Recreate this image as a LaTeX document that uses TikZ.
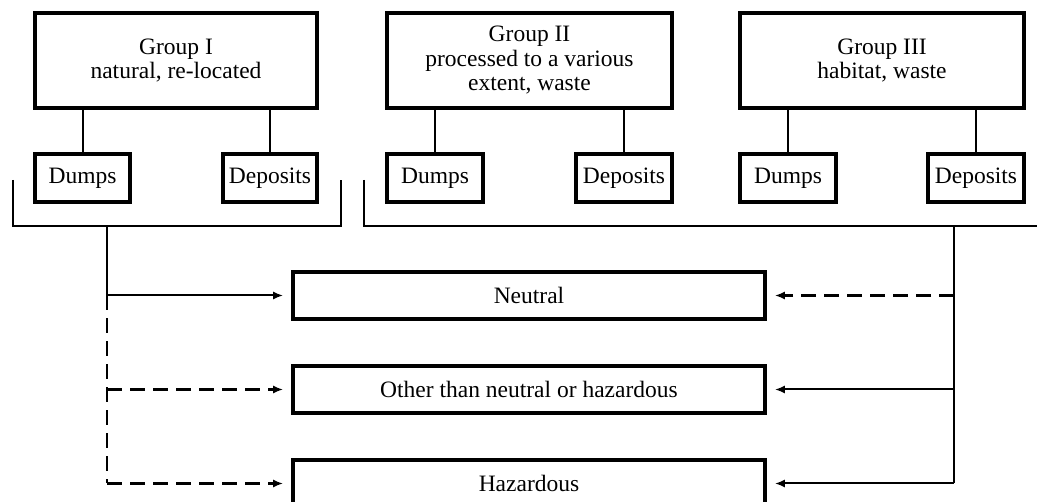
\documentclass[tikz,border=0pt]{standalone}
\usepackage{fontspec}
\setmainfont{Liberation Serif}
\usetikzlibrary{arrows.meta}
\begin{document}
\begin{tikzpicture}[x=1pt,y=-1pt,
  txt/.style={font=\fontsize{23.5}{24.5}\selectfont},
  grp/.style={txt, draw, line width=3.8pt, minimum width=282pt, minimum height=95pt, inner sep=0pt, align=center},
  sub/.style={txt, draw, line width=3.6pt, minimum height=48pt, inner sep=0pt},
  cat/.style={txt, draw, line width=3.6pt, minimum width=472pt, minimum height=47pt, inner sep=0pt},
  ln/.style={line width=2pt},
  arr/.style={line width=2pt, -{Latex[length=10pt,width=8pt]}, shorten >=8pt},
  dsh/.style={line width=2.2pt, dash pattern=on 15pt off 8pt}
]
\clip (0,0) rectangle (1037,502);
% groups
\node[grp] (g1) at (176,60.5) {Group I\\natural, re-located};
\node[grp, minimum width=285pt] (g2) at (529.5,60.5) {Group II\\processed to a various\\extent, waste};
\node[grp, minimum width=284pt] (g3) at (882,60.5) {Group III\\habitat, waste};
% sub boxes
\node[sub, minimum width=95pt] (d1) at (82.5,178) {Dumps};
\node[sub, minimum width=94pt] (p1) at (270,178) {Deposits};
\node[sub, minimum width=96pt] (d2) at (435,178) {Dumps};
\node[sub, minimum width=96pt] (p2) at (624,178) {Deposits};
\node[sub, minimum width=96pt] (d3) at (788,178) {Dumps};
\node[sub, minimum width=96pt] (p3) at (976,178) {Deposits};
\foreach \g/\s in {g1/d1,g1/p1,g2/d2,g2/p2,g3/d3,g3/p3}
  \draw[ln] (\s.north |- \g.south) -- (\s.north);
% categories
\node[cat] (n1) at (529,295.5) {Neutral};
\node[cat] (n2) at (529,389.5) {Other than neutral or hazardous};
\node[cat] (n3) at (529,483.5) {Hazardous};
% brackets
\coordinate (b1a) at (13,180);
\coordinate (b1b) at (341,180);
\coordinate (b2a) at (364,180);
\coordinate (b2b) at (1040,226);
\coordinate (ls) at (107,226);
\coordinate (rs) at (954,226);
\draw[ln] (b1a) -- (b1a |- ls) -- (b1b |- ls) -- (b1b);
\draw[ln] (b2a) -- (b2a |- ls) -- (b2b);
% left stem
\coordinate (l1) at (ls |- n1.west);
\coordinate (l2) at (ls |- n2.west);
\coordinate (l3) at (ls |- n3.west);
\draw[ln] (ls) -- (l1);
\draw[arr] (l1) -- (n1.west);
\draw[dsh] (l1) -- (l3);
\draw[arr, dsh] (l2) -- (n2.west);
\draw[arr, dsh] (l3) -- (n3.west);
% right stem
\coordinate (r1) at (rs |- n1.east);
\coordinate (r2) at (rs |- n2.east);
\coordinate (r3) at (rs |- n3.east);
\draw[ln] (rs) -- (r3);
\draw[arr, dsh] (r1) -- (n1.east);
\draw[arr] (r2) -- (n2.east);
\draw[arr] (r3) -- (n3.east);
\end{tikzpicture}
\end{document}
